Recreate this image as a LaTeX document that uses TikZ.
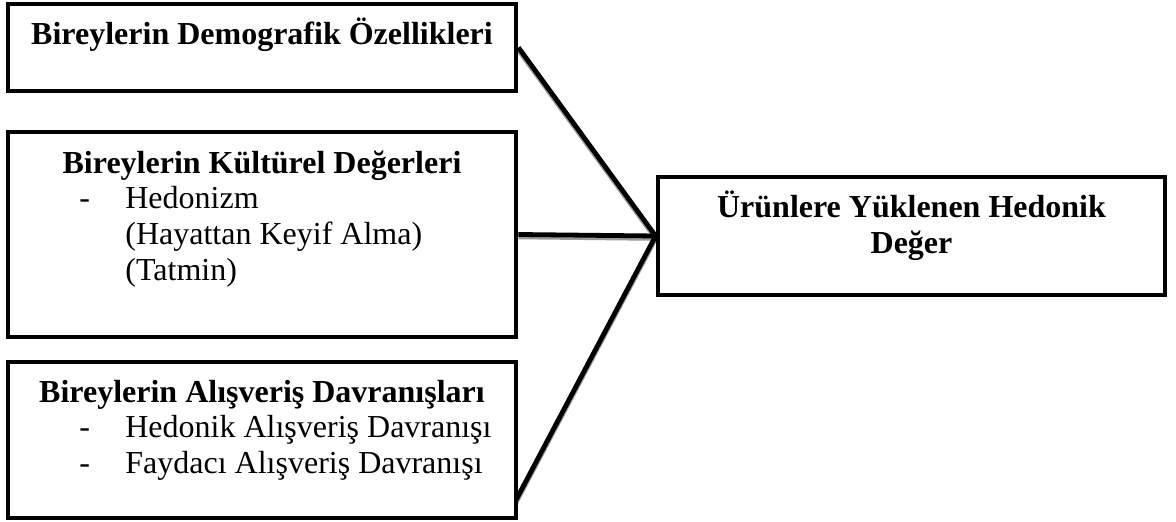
\documentclass[tikz,border=0pt]{standalone}
\usepackage{fontspec}
\setmainfont{Liberation Serif}
\usepackage{array}
\usetikzlibrary{backgrounds}

\tikzset{
  box/.style={draw=black, line width=2.4pt, fill=white, minimum width=254pt, inner sep=0pt},
  link/.style={draw=black, line width=2.4pt},
  linkshadow/.style={draw=black!40, line width=2.4pt},
  txt/.style={inner sep=0pt, font=\fontsize{16}{18}\selectfont},
  title/.style={txt, font=\fontsize{16}{18}\selectfont\bfseries, anchor=base},
}

\begin{document}
\begin{tikzpicture}[x=0.5pt, y=-0.5pt]
  \useasboundingbox (0,0) rectangle (1176,522);

  % kutular
  \node[box, minimum height=43.5pt] (demog) at (262,47.5) {};
  \node[box, minimum height=102.5pt] (kultur) at (262,234.5) {};
  \node[box, minimum height=78pt] (alisveris) at (262,440) {};
  \node[box, minimum width=253.5pt, minimum height=59pt] (hedonik) at (911.5,236) {};

  \coordinate (alisveris-out) at (516,500);

  % metinler
  \node[title] (demog-t) at (262,45) {Bireylerin Demografik Özellikleri};
  \node[title] (kultur-t) at (262,174) {Bireylerin Kültürel Değerleri};
  \node[txt, anchor=base west] (kultur-l) at (79,209)
    {\begin{tabular}[t]{@{}p{23pt}@{}l@{}}-&Hedonizm\\&(Hayattan Keyif Alma)\\&(Tatmin)\end{tabular}};
  \node[title] (alisveris-t) at (262,403) {Bireylerin Alışveriş Davranışları};
  \node[txt, anchor=base west] (alisveris-l) at (79,438)
    {\begin{tabular}[t]{@{}p{23pt}@{}l@{}}-&Hedonik Alışveriş Davranışı\\-&Faydacı Alışveriş Davranışı\end{tabular}};
  \node[title] (hedonik-t) at (911.5,218)
    {\begin{tabular}[t]{@{}c@{}}Ürünlere Yüklenen Hedonik\\Değer\end{tabular}};

  % baglantilar
  \begin{scope}[on background layer]
    \begin{scope}[transform canvas={shift={(0pt,-1.2pt)}}]
      \draw[linkshadow] (demog.east) -- (hedonik.west);
      \draw[linkshadow] (kultur.east) -- (hedonik.west);
      \draw[linkshadow] (alisveris-out) -- (hedonik.west);
    \end{scope}
    \draw[link] (demog.east) -- (hedonik.west);
    \draw[link] (kultur.east) -- (hedonik.west);
    \draw[link] (alisveris-out) -- (hedonik.west);
  \end{scope}
\end{tikzpicture}
\end{document}
